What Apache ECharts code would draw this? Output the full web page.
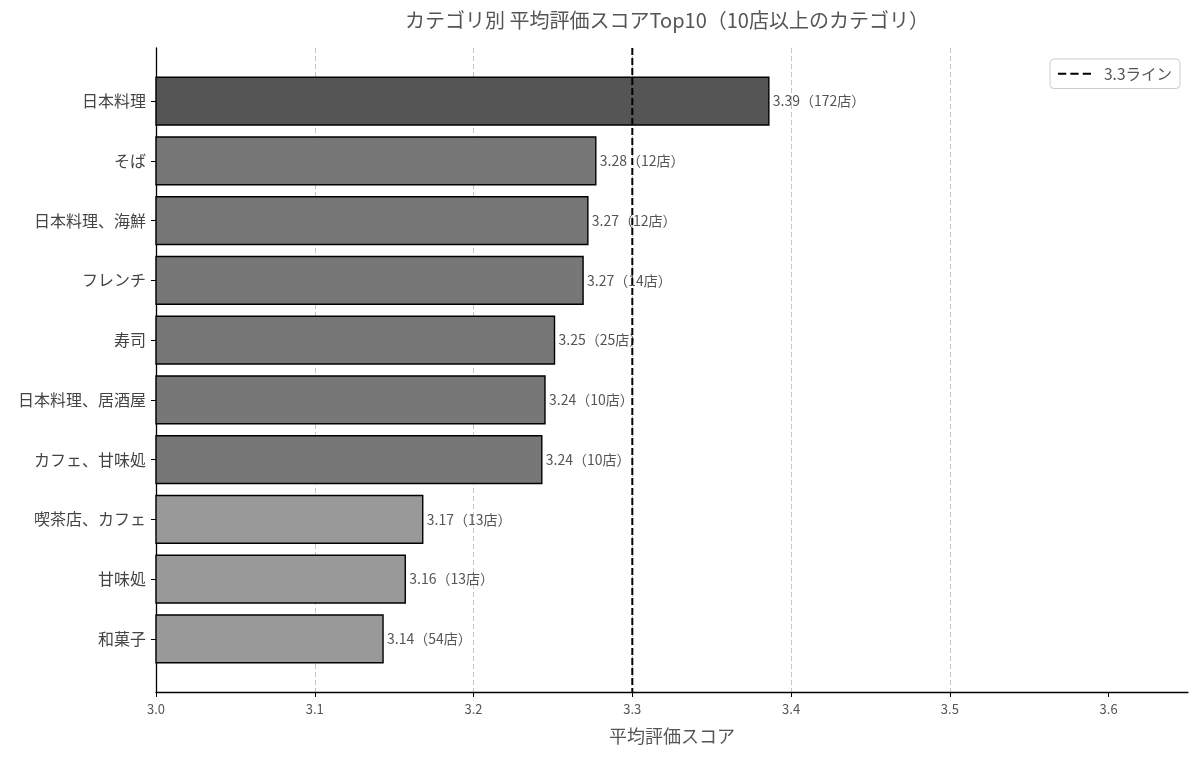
<!DOCTYPE html>
<html>
<head>
<meta charset="utf-8">
<script src="https://cdn.jsdelivr.net/npm/echarts@6/dist/echarts.min.js"></script>
<style>html,body{margin:0;padding:0;background:#fff}#c{width:1200px;height:757px}</style>
</head>
<body>
<div id="c"></div>
<script>
const categories = ['日本料理','そば','日本料理、海鮮','フレンチ','寿司','日本料理、居酒屋','カフェ、甘味処','喫茶店、カフェ','甘味処','和菓子'];
const scores = [3.386, 3.277, 3.272, 3.269, 3.251, 3.245, 3.243, 3.168, 3.157, 3.143];
const labelScores = ['3.39','3.28','3.27','3.27','3.25','3.24','3.24','3.17','3.16','3.14'];
const shopCounts = [172, 12, 12, 14, 25, 10, 10, 13, 13, 54];
const barColors = ['#555555','#777777','#777777','#777777','#777777','#777777','#777777','#999999','#999999','#999999'];
const xTicks = [3.0, 3.1, 3.2, 3.3, 3.4, 3.5, 3.6];
const refValue = 3.3;
const X_MIN = 3.0, X_MAX = 3.65;
const Y_MIN = -0.89, Y_MAX = 9.89;
const FONT = '"Noto Sans CJK JP", "Noto Sans", sans-serif';

const chart = echarts.init(document.getElementById('c'));
const barData = scores.map((v, i) => [v, i]);
const yIdx = categories.map((_, i) => i);

chart.setOption({
  animation: false,
  textStyle: { fontFamily: FONT },
  graphic: [{
    type: 'text', x: 667, y: 20,
    style: { text: 'カテゴリ別 平均評価スコアTop10（10店以上のカテゴリ）', fill: '#555', fontSize: 20, fontFamily: FONT, align: 'center', verticalAlign: 'middle' }
  }],
  legend: {
    right: 20, top: 59,
    data: [{ name: '3.3ライン', icon: 'path://M0,0h8v2h-8z M12,0h8v2h-8z M24,0h8v2h-8z' }],
    itemWidth: 33, itemHeight: 2.4, itemGap: 10,
    padding: [7, 8, 7, 8],
    borderColor: '#cccccc', borderWidth: 1, borderRadius: 4,
    textStyle: { color: '#555', fontSize: 15.5, fontFamily: FONT, padding: [0, 0, 0, 8] }
  },
  grid: { left: 156, right: 12, top: 48, bottom: 65, containLabel: false },
  xAxis: {
    type: 'value', min: X_MIN, max: X_MAX,
    name: '平均評価スコア', nameLocation: 'middle', nameGap: 35,
    nameTextStyle: { color: '#555', fontSize: 18, fontFamily: FONT },
    axisLine: { show: true, onZero: false, lineStyle: { color: '#000', width: 1.3 } },
    axisTick: { show: true, length: 5, lineStyle: { color: '#000' }, customValues: xTicks },
    axisLabel: { color: '#555', fontSize: 13, margin: 11, customValues: xTicks, formatter: v => Number(v).toFixed(1) },
    splitLine: { show: true, showMinLine: false, showMaxLine: false, lineStyle: { color: '#c4c4c4', width: 1, type: [5, 3] } }
  },
  yAxis: {
    type: 'value', min: Y_MIN, max: Y_MAX, inverse: true,
    axisLine: { show: true, onZero: false, lineStyle: { color: '#000', width: 1.3 } },
    axisTick: { show: true, length: 5, lineStyle: { color: '#000' }, customValues: yIdx },
    axisLabel: { color: '#444', fontSize: 16, margin: 10, customValues: yIdx, formatter: v => categories[Math.round(v)] || '' },
    splitLine: { show: false }
  },
  series: [{
    type: 'custom',
    name: 'bars',
    data: barData,
    encode: { x: 0, y: 1 },
    z: 2,
    renderItem: function (params, api) {
      const v = api.value(0), i = api.value(1);
      const p0 = api.coord([X_MIN, i]);
      const p1 = api.coord([v, i]);
      const h = api.size([0, 0.8])[1];
      return {
        type: 'group',
        children: [{
          type: 'rect',
          shape: { x: p0[0], y: p0[1] - h / 2, width: p1[0] - p0[0], height: h },
          style: { fill: barColors[i], stroke: '#000', lineWidth: 1.4 }
        }, {
          type: 'text',
          x: p1[0] + 4, y: p1[1],
          style: { text: labelScores[i] + '（' + shopCounts[i] + '店）', fill: '#555', fontSize: 14, fontFamily: FONT, align: 'left', verticalAlign: 'middle' }
        }]
      };
    }
  }, {
    type: 'line',
    name: '3.3ライン',
    data: [[refValue, Y_MIN], [refValue, Y_MAX]],
    symbol: 'none',
    z: 5,
    lineStyle: { color: '#000', width: 2, type: [7, 3] },
    itemStyle: { color: '#000' }
  }]
});
</script>
</body>
</html>
